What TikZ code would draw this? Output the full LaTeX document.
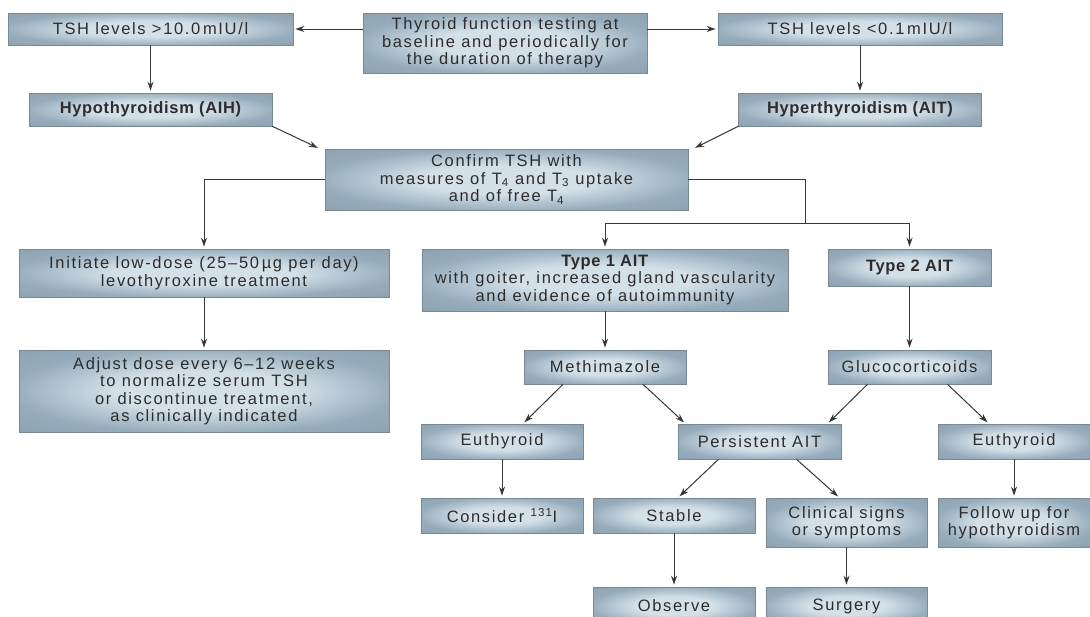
\documentclass[tikz,border=0pt]{standalone}
\usepackage{fontspec}
\setmainfont[LetterSpace=10, BoldFeatures={LetterSpace=4}]{Liberation Sans}
\usepackage{xcolor}
\usetikzlibrary{arrows.meta,positioning}
\definecolor{boxedge}{RGB}{150,172,188}
\definecolor{boxmid}{RGB}{212,224,232}
\definecolor{boxline}{RGB}{122,136,146}
\definecolor{arrline}{RGB}{55,55,55}
\definecolor{txt}{RGB}{45,45,45}
\pgfdeclareradialshading{boxshade}{\pgfpoint{0bp}{0bp}}{color(0bp)=(boxmid); color(12bp)=(boxmid); color(26bp)=(boxedge); color(36bp)=(boxedge!94!black); color(50bp)=(boxedge!94!black)}

\begin{document}
\begin{tikzpicture}[x=1pt, y=-1pt,
    box/.style={draw=boxline, line width=0.6pt, shade, shading=boxshade, inner sep=0pt, align=center, text=txt, font=\fontsize{16.5}{17.5}\selectfont},
    hdbox/.style={box, font=\fontsize{16.5}{17.5}\selectfont\bfseries},
    ln/.style={draw=arrline, line width=1pt},
    arr/.style={ln, -{Stealth[length=9pt,width=6pt]}, shorten >=2pt}
  ]
    \useasboundingbox (0,0) rectangle (1090,616);
    \fill[white] (0,0) rectangle (1090,616);
    % screening and first result
    \node[box, minimum width=285pt, minimum height=32pt] (tshhi) at (150.5,29) {TSH levels >10.0\,mIU/l};
    \node[box, minimum width=284pt, minimum height=60pt] (test) at (505,43) {Thyroid function testing at\\baseline and periodically for\\the duration of therapy};
    \node[box, minimum width=284pt, minimum height=32pt] (tshlo) at (860,29) {TSH levels <0.1\,mIU/l};
    \node[hdbox, minimum width=243pt, minimum height=33pt] (hypo) at (150.5,109.5) {Hypothyroidism (AIH)};
    \node[hdbox, minimum width=243pt, minimum height=33pt] (hyper) at (860,109.5) {Hyperthyroidism (AIT)};
    \node[box, minimum width=363pt, minimum height=61pt] (confirm) at (506.5,179.5) {Confirm TSH with\\measures of T\textsubscript{4} and T\textsubscript{3} uptake\\and of free T\textsubscript{4}};
    % hypothyroid branch
    \node[box, minimum width=370pt, minimum height=48pt] (initiate) at (204,273) {Initiate low-dose (25–50\,µg per day)\\levothyroxine treatment};
    \node[box, minimum width=370pt, minimum height=82pt] (adjust) at (204,391) {Adjust dose every 6–12 weeks\\to normalize serum TSH\\or discontinue treatment,\\as clinically indicated};
    % hyperthyroid branch
    \node[box, minimum width=366pt, minimum height=62pt] (type1) at (605,280) {\textbf{Type 1 AIT}\\with goiter, increased gland vascularity\\and evidence of autoimmunity};
    \node[hdbox, minimum width=163pt, minimum height=37pt] (type2) at (909.5,267.5) {Type 2 AIT};
    \node[box, minimum width=162pt, minimum height=34pt] (methi) at (605,367) {Methimazole};
    \node[box, minimum width=163pt, minimum height=34pt] (gluco) at (909.5,367) {Glucocorticoids};
    \node[box, minimum width=162pt, minimum height=35pt] (euthL) at (502,441.5) {Euthyroid};
    \node[box, minimum width=163pt, minimum height=35pt] (persist) at (759.5,441.5) {Persistent AIT};
    \node[box, minimum width=152pt, minimum height=35pt] (euthR) at (1014,441.5) {Euthyroid};
    \node[box, minimum width=162pt, minimum height=35pt] (consider) at (502,515.5) {Consider \textsuperscript{131}I};
    \node[box, minimum width=162pt, minimum height=35pt] (stable) at (674,515.5) {Stable};
    \node[box, minimum width=161pt, minimum height=49pt] (clinical) at (846.5,522.5) {Clinical signs\\or symptoms};
    \node[box, minimum width=152pt, minimum height=49pt] (follow) at (1014,522.5) {Follow up for\\hypothyroidism};
    \node[box, minimum width=162pt, minimum height=38pt] (observe) at (674,606) {Observe};
    \node[box, minimum width=161pt, minimum height=38pt] (surgery) at (846.5,606) {Surgery};
    \coordinate (split) at (805,223);
    % connectors
    \draw[arr] (test.west |- tshhi) -- (tshhi.east);
    \draw[arr] (test.east |- tshlo) -- (tshlo.west);
    \draw[arr] (tshhi) -- (hypo);
    \draw[arr] (tshlo) -- (hyper);
    \draw[arr] (hypo.south east) -- ([xshift=-5pt]confirm.north west);
    \draw[arr] (hyper.south west) -- ([xshift=5pt]confirm.north east);
    \draw[arr] (confirm.west) -| (initiate);
    \draw[arr] (initiate) -- (adjust);
    \draw[ln] (confirm.east) -| (split);
    \draw[arr] (split) -| (type1);
    \draw[arr] (split) -| (type2);
    \draw[arr] (type1) -- (methi);
    \draw[arr] (type2) -- (gluco);
    \draw[arr] ([xshift=-42pt]methi.south) -- ([xshift=21pt]euthL.north);
    \draw[arr] ([xshift=38pt]methi.south) -- ([xshift=-74pt]persist.north);
    \draw[arr] ([xshift=-42pt]gluco.south) -- ([xshift=68pt]persist.north);
    \draw[arr] ([xshift=38pt]gluco.south) -- ([xshift=-25pt]euthR.north);
    \draw[arr] (euthL) -- (consider);
    \draw[arr] ([xshift=-41pt]persist.south) -- ([xshift=4pt]stable.north);
    \draw[arr] ([xshift=37pt]persist.south) -- ([xshift=-7pt]clinical.north);
    \draw[arr] (euthR) -- (follow);
    \draw[arr] (stable) -- (observe);
    \draw[arr] (clinical) -- (surgery);
  \end{tikzpicture}
\end{document}
